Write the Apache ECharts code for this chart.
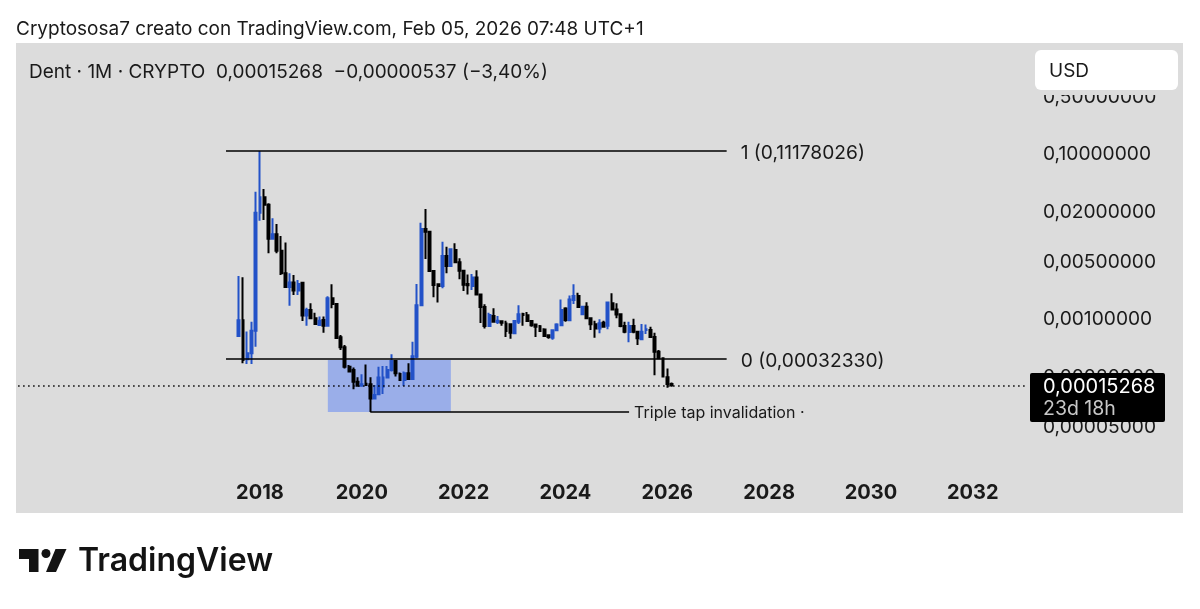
<!DOCTYPE html>
<html>
<head>
<meta charset="utf-8">
<title>Dent 1M</title>
<script src="https://cdn.jsdelivr.net/npm/echarts@6/dist/echarts.min.js"></script>
<style>
html,body{margin:0;padding:0;background:#fff;}
#container{width:1200px;height:609px;}
</style>
</head>
<body>
<div id="container"></div>
<script>
// monthly candles, Aug 2017 -> Feb 2026
var candleStart = [2017, 8];
var opens = [.000605,.000937,.000316,.000373,.000703,.0189,.02903,.0236,.00916,.01032,.00655,.00348,.00238,.0027,.00215,.00268,.00107,.00125,.00099,.000824,.000946,.000807,.00173,.00148,.000583,.000441,.000257,.000234,.000169,.000151,.00016,.000157,.000106,.000119,.000147,.00019,.000234,.000302,.00021,.000177,.000214,.000182,.00034,.00143,.01195,.01113,.00371,.00256,.00245,.00565,.00427,.00667,.00473,.00375,.00258,.00245,.00309,.00193,.00136,.0008,.00106,.000894,.000911,.000855,.00084,.000652,.000902,.00112,.00108,.00092,.000832,.000792,.000723,.000617,.000578,.00071,.000815,.0013,.000937,.00165,.00185,.00111,.00137,.00099,.00084,.000744,.000878,.000807,.00151,.00127,.00111,.0008,.000676,.0008,.000683,.000551,.000716,.000716,.000589,.000391,.000325,.000191,.00015805];
var closes = [.000937,.00031,.000373,.000703,.0189,.02903,.0236,.00916,.01032,.00655,.00348,.00238,.0027,.00215,.00258,.00107,.00125,.00099,.000847,.000929,.000807,.00173,.00148,.000572,.000441,.000257,.000224,.000169,.000151,.000157,.000154,.000106,.0001167,.00019,.00019,.000234,.000302,.000214,.000177,.000214,.000182,.000345,.00143,.01195,.01113,.00371,.00251,.00245,.00565,.00427,.0068,.00473,.00375,.00253,.00249,.00309,.00193,.00136,.0008,.00109,.000902,.000929,.000878,.000696,.000664,.00092,.00111,.00109,.00092,.000815,.000785,.000696,.000605,.000589,.00071,.000832,.00125,.000946,.00168,.00185,.00136,.00137,.00099,.00084,.000744,.000862,.000785,.00154,.00127,.0011,.0008,.000683,.0008,.000683,.000567,.000683,.00073,.000589,.000391,.000325,.000195,.000159,.00015268];
var lows = [.000594,.000282,.000277,.000277,.000449,.01512,.01541,.00608,.00916,.00608,.00333,.00238,.00141,.0019,.0019,.00092,.000807,.00099,.000824,.0008,.000664,.000807,.00131,.000556,.00041,.000245,.000218,.000137,.000147,.000147,.000154,.0000725,.000106,.0001167,.00012,.00019,.000224,.000195,.000174,.00015,.000182,.000182,.000325,.00143,.00519,.00371,.00178,.00154,.00229,.00348,.00427,.00473,.00294,.00213,.00193,.00219,.00193,.00087,.000744,.000785,.000902,.000847,.000807,.000589,.000561,.000652,.000847,.000807,.00092,.000785,.000589,.000676,.000594,.000561,.000546,.000696,.000815,.000902,.000937,.00148,.00136,.00108,.00099,.000716,.000578,.000652,.000771,.00073,.00127,.00099,.000771,.000652,.000507,.000652,.00047,.000541,.00064,.000589,.000202,.000318,.00019,.000143,.000147];
var highs = [.00323,.00312,.000684,.000903,.034,.1055,.03665,.02454,.01615,.0138,.00985,.0082,.00348,.00333,.00289,.00268,.00133,.00151,.00116,.00104,.00104,.00184,.00257,.00148,.000623,.00047,.000269,.000252,.000191,.000208,.000274,.000191,.000154,.000257,.000262,.000262,.000363,.00031,.000218,.000224,.000282,.000517,.00258,.01431,.02095,.01143,.00371,.00256,.00842,.00732,.007,.00804,.00529,.00382,.00336,.00341,.00379,.00193,.00147,.00116,.00131,.00106,.000929,.000929,.00084,.000929,.00143,.00116,.00118,.000929,.000847,.000824,.000751,.000629,.00073,.000862,.00168,.00135,.00188,.00256,.00203,.00137,.00155,.00099,.000929,.000964,.000929,.00154,.00199,.00151,.00114,.000902,.000902,.00098,.000683,.000847,.000832,.000785,.000664,.00041,.000331,.000245,.000165];

// axis
var priceTicks = [0.5, 0.1, 0.02, 0.005, 0.001, 0.0002, 0.00005];
var priceMin = 0.00000433;
var priceMax = 2.154;
var yearTicks = [2018, 2020, 2022, 2024, 2026, 2028, 2030, 2032];
var firstMonth = [2013, 4];
var monthCount = 239;

// drawings
var lastPrice = 0.00015268;
var levelOne = 0.1058;
var levelZero = 0.00032;
var levelStart = '2017-05';
var levelEnd = '2027-03';
var zoneStart = '2019-05';
var zoneEnd = '2021-10';
var zoneTop = 0.00031;
var zoneBottom = 0.0000725;
var invalidationStart = '2020-03';
var invalidationEnd = '2025-04';

var FONT = 'Inter';
var BLUE = '#2352c8';
var BLACK = '#000000';
var TEXT = '#1a1a1a';

function monthKey(y, m) {
    return y + '-' + (m < 10 ? '0' + m : m);
}

var categories = [];
(function () {
    var y = firstMonth[0], m = firstMonth[1];
    for (var i = 0; i < monthCount; i++) {
        categories.push(monthKey(y, m));
        m++;
        if (m > 12) { m = 1; y++; }
    }
})();

var candleData = [];
(function () {
    var offset = categories.indexOf(monthKey(candleStart[0], candleStart[1]));
    for (var i = 0; i < offset; i++) candleData.push('-');
    for (var j = 0; j < opens.length; j++) {
        candleData.push([opens[j], closes[j], lows[j], highs[j]]);
    }
})();

function priceLabel(v) {
    return '{p|' + v.toFixed(8).replace('.', ',') + '}';
}

// rich text so the glyphs sit a little lower than the line they belong to
var axisText = {p: {fontFamily: FONT, fontSize: 19.2, color: TEXT, padding: [3, 0, 0, 0]}};
var bigText = {p: {fontFamily: FONT, fontSize: 19.2, color: TEXT, padding: [4, 0, 0, 0]}};
var smallText = {p: {fontFamily: FONT, fontSize: 16, color: TEXT, padding: [3, 0, 0, 0]}};

var chart = echarts.init(document.getElementById('container'), null, {renderer: 'canvas'});

var option = {
    animation: false,
    backgroundColor: '#ffffff',
    grid: {left: 16, right: 170, top: 43, bottom: 96},
    xAxis: {
        type: 'category',
        data: categories,
        boundaryGap: true,
        axisLine: {show: false},
        axisTick: {show: false},
        splitLine: {show: false},
        axisLabel: {
            inside: true,
            margin: 10,
            fontFamily: FONT,
            fontSize: 20,
            fontWeight: 'bold',
            color: TEXT,
            interval: function (i, v) {
                return v.slice(5) === '01' && yearTicks.indexOf(+v.slice(0, 4)) >= 0;
            },
            formatter: function (v) { return v.slice(0, 4); }
        }
    },
    yAxis: {
        type: 'log',
        logBase: 10,
        position: 'right',
        min: priceMin,
        max: priceMax,
        axisLine: {show: false},
        axisTick: {show: false},
        splitLine: {show: false},
        axisLabel: {
            customValues: priceTicks,
            margin: 13,
            formatter: priceLabel,
            rich: axisText
        }
    },
    series: [{
        type: 'candlestick',
        data: candleData,
        barWidth: 2.4,
        itemStyle: {color: BLUE, color0: BLACK, borderColor: BLUE, borderColor0: BLACK, borderWidth: 2},
        markArea: {
            silent: true,
            itemStyle: {color: '#9aaee9'},
            data: [[{coord: [zoneStart, zoneTop]}, {coord: [zoneEnd, zoneBottom]}]]
        },
        markLine: {
            silent: true,
            symbol: 'none',
            data: [
                [{
                    coord: [levelStart, levelOne],
                    lineStyle: {color: BLACK, width: 1.6, type: 'solid'},
                    label: {show: true, position: 'end', distance: 14, formatter: '{p|1 (0,11178026)}', rich: bigText}
                }, {coord: [levelEnd, levelOne]}],
                [{
                    coord: [levelStart, levelZero],
                    lineStyle: {color: BLACK, width: 1.6, type: 'solid'},
                    label: {show: true, position: 'end', distance: 14, formatter: '{p|0 (0,00032330)}', rich: bigText}
                }, {coord: [levelEnd, levelZero]}],
                [{
                    coord: [invalidationStart, zoneBottom],
                    lineStyle: {color: BLACK, width: 1.6, type: 'solid'},
                    label: {show: true, position: 'end', distance: 5, formatter: '{p|Triple tap invalidation ·}', rich: smallText}
                }, {coord: [invalidationEnd, zoneBottom]}],
                [{
                    coord: [categories[0], lastPrice],
                    lineStyle: {color: BLACK, width: 1.5, type: [1.5, 3.5]},
                    label: {show: false}
                }, {coord: [categories[monthCount - 1], lastPrice]}]
            ]
        }
    }],
    graphic: [
        {type: 'rect', z: -10, shape: {x: 16, y: 43, width: 1167, height: 470}, style: {fill: '#dcdcdc'}},
        {type: 'text', z: 100, x: 16, y: 29, style: {text: 'Cryptososa7 creato con TradingView.com, Feb 05, 2026 07:48 UTC+1', fontFamily: FONT, fontSize: 19, fill: TEXT, verticalAlign: 'middle'}},
        {type: 'text', z: 100, x: 29, y: 72, style: {text: 'Dent · 1M · CRYPTO  0,00015268  −0,00000537 (−3,40%)', fontFamily: FONT, fontSize: 19, fill: TEXT, verticalAlign: 'middle'}},
        // the legend strip hides the top half of the 0,5 tick label
        {type: 'rect', z: 99, shape: {x: 1035, y: 88, width: 143, height: 7}, style: {fill: '#dcdcdc'}},
        {type: 'rect', z: 100, shape: {x: 1035, y: 50, width: 143, height: 40, r: 6}, style: {fill: '#ffffff'}},
        {type: 'text', z: 101, x: 1049, y: 71, style: {text: 'USD', fontFamily: FONT, fontSize: 19, fill: TEXT, verticalAlign: 'middle'}},
        {type: 'rect', z: 100, shape: {x: 1030, y: 373, width: 135, height: 49, r: 2}, style: {fill: '#000000'}},
        {type: 'text', z: 101, x: 1043, y: 387, style: {text: '0,00015268', fontFamily: FONT, fontSize: 20, fill: '#ffffff', verticalAlign: 'middle'}},
        {type: 'text', z: 101, x: 1043, y: 409, style: {text: '23d 18h', fontFamily: FONT, fontSize: 19.5, fill: '#c8c8c8', verticalAlign: 'middle'}},
        // TradingView logo
        {type: 'polygon', z: 100, shape: {points: [[19, 549], [38.5, 549], [38.5, 572], [29, 572], [29, 559], [19, 559]]}, style: {fill: '#131313'}},
        {type: 'circle', z: 100, shape: {cx: 46, cy: 553.5, r: 4.5}, style: {fill: '#131313'}},
        {type: 'polygon', z: 100, shape: {points: [[55.5, 549], [66.5, 549], [56, 572], [46, 572]]}, style: {fill: '#131313'}},
        {type: 'text', z: 100, x: 78, y: 561, style: {text: 'TradingView', fontFamily: FONT, fontSize: 32, fontWeight: 600, fill: '#131313', verticalAlign: 'middle'}}
    ]
};

chart.setOption(option);
</script>
</body>
</html>
